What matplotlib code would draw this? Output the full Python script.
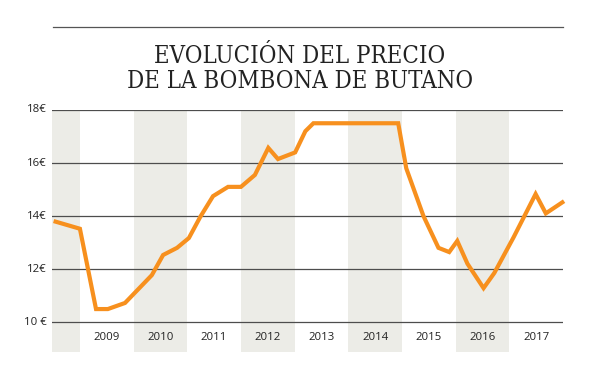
import matplotlib
matplotlib.use("Agg")
import matplotlib.pyplot as plt

# Data
years_t = [2008.51, 2009.00, 2009.30, 2009.52, 2009.84, 2010.34, 2010.55, 2010.81,
           2011.03, 2011.24, 2011.48, 2011.76, 2012.00, 2012.26, 2012.51, 2012.69,
           2013.01, 2013.20, 2013.35, 2014.93, 2015.08, 2015.40, 2015.68, 2015.88,
           2016.03, 2016.22, 2016.52, 2016.72, 2017.08, 2017.49, 2017.68, 2018.02]
price = [13.81, 13.52, 10.49, 10.49, 10.72, 11.77, 12.53, 12.80,
         13.17, 13.96, 14.75, 15.10, 15.10, 15.55, 16.57, 16.15,
         16.40, 17.20, 17.50, 17.50, 15.80, 14.00, 12.80, 12.64,
         13.06, 12.20, 11.28, 11.85, 13.20, 14.83, 14.10, 14.56]
year_labels = ["2009", "2010", "2011", "2012", "2013", "2014", "2015", "2016", "2017"]
year_pos = [2009, 2010, 2011, 2012, 2013, 2014, 2015, 2016, 2017]
band_starts = [2008.48, 2010.0, 2012.0, 2014.0, 2016.0]
band_ends = [2009.0, 2011.0, 2013.0, 2015.0, 2017.0]
y_ticks = [10, 12, 14, 16, 18]
y_labels = ["10 €", "12€", "14€", "16€", "18€"]
title_lines = ["EVOLUCIÓN DEL PRECIO", "DE LA BOMBONA DE BUTANO"]

W, H = 600, 376
fig = plt.figure(figsize=(6, 3.76), dpi=100)
fig.patch.set_facecolor("white")

x0, x1 = 2008.48, 2018.0
ylo, yhi = 8.87, 18.0
ax = fig.add_axes([52 / W, (H - 352) / H, (563 - 52) / W, (352 - 110) / H])
ax.set_xlim(x0, x1)
ax.set_ylim(ylo, yhi)
for s in ax.spines.values():
    s.set_visible(False)
ax.set_xticks([])
ax.set_yticks([])

for a, b in zip(band_starts, band_ends):
    ax.axvspan(a, b, color="#ecece7", lw=0, zorder=0)

for yv in y_ticks:
    ax.axhline(yv, color="#4d4d4d", lw=0.9, zorder=1)

sans = "Open Sans"
ytrans = ax.get_yaxis_transform()
import matplotlib.transforms as mtransforms
offset = mtransforms.ScaledTranslation(-5 / 100, 0, fig.dpi_scale_trans)
for yv, lab in zip(y_ticks, y_labels):
    ax.text(0, yv, lab, transform=ytrans + offset, ha="right", va="center",
            fontsize=8.2, family=sans, color="#222222")

for yp, lab in zip(year_pos, year_labels):
    ax.text(yp + 0.5, 9.43, lab, ha="center", va="center", fontsize=8.2,
            family=sans, color="#222222")

ax.plot(years_t, price, color="#f7901e", lw=3.0, solid_joinstyle="miter",
        solid_capstyle="butt", zorder=3, clip_on=False)

# top rule
fig.add_artist(plt.Line2D([53 / W, 563 / W], [1 - 27 / H, 1 - 27 / H],
                          color="#555555", lw=0.9))

tfam = "DejaVu Serif"
fig.text(0.5, 1 - 63 / H, title_lines[0], ha="center", va="baseline",
         fontsize=17.2, family=tfam, stretch="condensed", color="#222222")
fig.text(0.5, 1 - 88 / H, title_lines[1], ha="center", va="baseline",
         fontsize=17.2, family=tfam, stretch="condensed", color="#222222")

fig.savefig("out.png", dpi=100, facecolor="white")
